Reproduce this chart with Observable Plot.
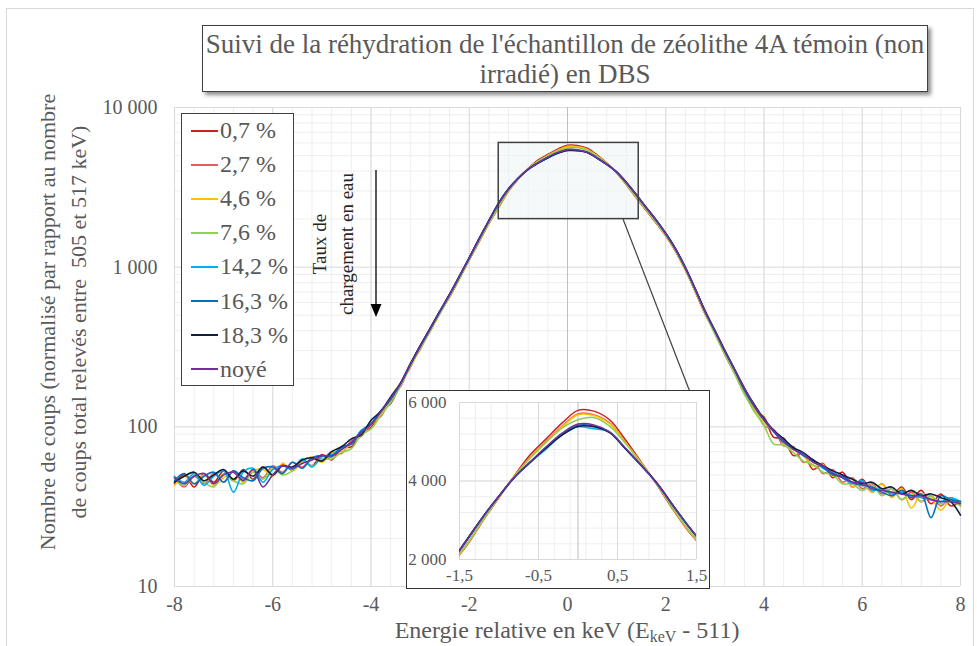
<!DOCTYPE html>
<html><head><meta charset="utf-8">
<script src="https://cdn.jsdelivr.net/npm/d3@7"></script>
<script src="https://cdn.jsdelivr.net/npm/@observablehq/plot@0.6"></script>
<style>
body{margin:0;background:#fff;}
#wrap{position:relative;width:977px;height:646px;overflow:hidden;font-family:'Liberation Serif',Tinos,serif;color:#595959;}
#wrap > *{position:absolute;}
.legend-item{position:absolute;left:9px;height:26px;display:flex;align-items:center;font-size:24px;white-space:nowrap;}
.legend-item span.sw{display:inline-block;width:27px;height:2px;margin-right:2px;}
</style></head><body><div id="wrap"></div>
<script>
const energies = [-8,-7.8,-7.6,-7.4,-7.2,-7,-6.8,-6.6,-6.4,-6.2,-6,-5.8,-5.6,-5.4,-5.2,-5,-4.8,-4.6,-4.4,-4.2,-4,-3.8,-3.6,-3.4,-3.2,-3,-2.8,-2.6,-2.4,-2.2,-2,-1.8,-1.6,-1.4,-1.2,-1,-0.8,-0.6,-0.4,-0.2,0,0.2,0.4,0.6,0.8,1,1.2,1.4,1.6,1.8,2,2.2,2.4,2.6,2.8,3,3.2,3.4,3.6,3.8,4,4.2,4.4,4.6,4.8,5,5.2,5.4,5.6,5.8,6,6.2,6.4,6.6,6.8,7,7.2,7.4,7.6,7.8,8];

const s07 = [44,50,42,51,45,53,46,54,47,56,50,58,54,62,57,67,62,74,75,93,99,126,140,
  185,236,315,395,520,650,850,1110,1440,1880,
  2380,3000,3580,4150,4680,5080,5480,5800,5780,5560,5050,4480,3900,3280,2720,
  2270,1900,1570,1255,960,705,510,395,285,218,
  175,126,115,86,85,66,68,54,59,48,52,42,47,39,44,37,42,35,40,33,38,32,34];
const s27 = [48,42,49,44,51,45,53,47,54,48,57,52,60,56,64,62,70,68,82,87,106,116,150,
  178,242,305,402,510,655,845,1115,1450,1890,
  2390,3000,3580,4140,4620,5020,5400,5710,5690,5480,4990,4450,3910,3290,2720,
  2280,1910,1575,1260,962,708,515,388,290,220,
  163,137,102,96,76,75,60,62,51,54,45,48,41,44,38,41,35,39,34,37,32,36,32];
const s46 = [43,49,44,50,43,48,52,45,53,54,49,59,53,60,65,60,69,70,79,90,103,120,147,
  184,238,312,398,514,658,855,1118,1455,1895,
  2400,3010,3590,4140,4600,5000,5380,5690,5670,5460,4980,4460,3920,3300,2740,
  2290,1915,1580,1265,965,710,518,392,288,224,
  170,130,106,95,79,72,66,57,58,49,50,42,44,39,44,36,41,31,38,36,30,35,33];
const s76 = [47,43,50,45,42,51,46,44,52,47,55,50,53,61,57,63,63,69,73,89,97,118,142,
  180,240,308,396,512,652,850,1115,1450,1890,
  2420,3020,3590,4130,4590,4990,5350,5560,5620,5400,4960,4440,3920,3310,2750,
  2295,1920,1585,1270,968,712,515,380,285,215,
  160,125,102,78,77,69,61,58,52,50,44,44,40,43,37,41,35,38,34,37,33,34,32];
const s142 = [49,45,51,43,49,53,39,52,55,45,54,57,54,63,56,65,67,74,79,95,105,126,149,
  186,245,318,408,525,672,875,1140,1500,1950,
  2500,3080,3610,4100,4480,4820,5180,5380,5330,5250,4830,4390,3930,3370,2830,
  2360,1975,1620,1295,990,728,528,398,298,227,
  172,136,112,94,83,74,67,62,55,52,48,44,46,40,41,38,39,37,36,35,34,36,34];
const s163 = [46,51,44,49,52,45,53,48,46,55,56,51,60,55,64,66,65,75,78,94,104,125,148,
  187,246,320,410,528,675,878,1145,1505,1955,
  2520,3100,3620,4100,4480,4860,5200,5420,5400,5240,4830,4400,3940,3380,2840,
  2365,1980,1625,1300,992,730,530,400,300,228,
  170,134,110,93,80,73,66,61,56,50,49,45,43,42,39,37,40,36,38,27,37,35,34];
const s183 = [45,49,52,46,50,54,47,53,49,56,50,57,56,62,64,61,70,75,84,89,110,125,154,
  188,248,322,412,530,678,880,1148,1510,1960,
  2530,3100,3620,4100,4490,4850,5170,5390,5380,5230,4820,4400,3950,3390,2850,
  2370,1985,1630,1302,995,732,532,402,302,230,
  175,138,112,95,84,74,69,62,57,53,50,47,44,45,41,42,38,40,37,38,36,34,28];
const sNoye = [48,44,49,51,44,50,52,46,54,42,50,57,55,59,62,66,66,72,80,92,103,124,151,
  186,245,318,408,526,672,875,1142,1500,1950,
  2510,3090,3620,4110,4500,4880,5220,5450,5430,5250,4840,4400,3940,3380,2840,
  2360,1975,1622,1298,990,729,529,399,299,229,
  174,136,111,94,82,72,68,60,57,51,48,45,45,41,40,39,38,37,37,35,34,34,33];

const seriesNames = ["0,7 %","2,7 %","4,6 %","7,6 %","14,2 %","16,3 %","18,3 %","noyé"];
const seriesColors = ["#c9211e","#ec5a5c","#ffc000","#92d050","#00b0f0","#0070c0","#0f1f3d","#7030a0"];
const xTicks = [-8,-6,-4,-2,0,2,4,6,8];
const yTicks = [10,100,1000,10000];
const insetXTicks = [-1.5,-0.5,0.5,1.5];
const insetYTicks = [2000,4000,6000];
const zoomBox = {x1:-1.4, x2:1.45, y1:2000, y2:6000};

const seriesValues = [s07,s27,s46,s76,s142,s163,s183,sNoye];
const rows = [];
seriesValues.forEach((vals,k) => vals.forEach((v,i) => rows.push({x: energies[i], y: v, s: seriesNames[k]})));

const fmtNum = d => {
  const s = String(Math.abs(d));
  const [i,f] = s.split(".");
  return (d < 0 ? "-" : "") + i.replace(/\B(?=(\d{3})+(?!\d))/g, " ") + (f ? "," + f : "");
};
const FONT = "'Liberation Serif', Tinos, serif";
const GRID_MINOR = "#eeeeee", GRID_MAJOR = "#d9d9d9";

const xMinor = d3.range(-8, 8.001, 0.4).map(v => +v.toFixed(2));
const yMinor = [10,100,1000].flatMap(d => d3.range(2,10).map(k => k*d));

const main = Plot.plot({
  width: 977, height: 646,
  marginLeft: 174, marginRight: 17, marginTop: 107, marginBottom: 60,
  style: {background: "transparent", fontFamily: FONT, fontSize: "20px", color: "#595959", overflow: "visible"},
  x: {domain: [-8, 8], ticks: xTicks, tickFormat: fmtNum, tickSize: 0, tickPadding: 10, label: null},
  y: {type: "log", domain: [10, 10000], ticks: yTicks, tickFormat: fmtNum, tickSize: 0, tickPadding: 17, label: null},
  color: {domain: seriesNames, range: seriesColors},
  marks: [
    Plot.ruleX(xMinor, {stroke: GRID_MINOR}),
    Plot.ruleY(yMinor, {stroke: GRID_MINOR}),
    Plot.ruleX(xTicks, {stroke: GRID_MAJOR}),
    Plot.ruleY(yTicks, {stroke: GRID_MAJOR}),
    Plot.ruleX([0], {stroke: "#bfbfbf"}),
    Plot.rect([zoomBox], {x1: "x1", x2: "x2", y1: "y1", y2: "y2", fill: "#eef5f7", fillOpacity: 0.6}),
    Plot.line(rows, {x: "x", y: "y", z: "s", stroke: "s", curve: "catmull-rom", strokeWidth: 1.6}),
    Plot.rect([zoomBox], {x1: "x1", x2: "x2", y1: "y1", y2: "y2", fill: "none", stroke: "#404040", strokeWidth: 1.5})
  ]
});

const insetXMinor = d3.range(-1.5, 1.5001, 0.2).map(v => +v.toFixed(2));
const insetYMinor = d3.range(2000, 6001, 400);
const insetRows = rows.filter(r => r.x >= -1.8 && r.x <= 1.8);
const inset = Plot.plot({
  width: 302, height: 197,
  marginLeft: 52, marginRight: 13, marginTop: 11, marginBottom: 29,
  style: {background: "#fff", fontFamily: FONT, fontSize: "17px", color: "#595959", overflow: "visible"},
  x: {domain: [-1.5, 1.5], ticks: insetXTicks, tickFormat: fmtNum, tickSize: 0, tickPadding: 9, label: null},
  y: {domain: [2000, 6000], ticks: insetYTicks, tickFormat: fmtNum, tickSize: 0, tickPadding: 13, label: null},
  color: {domain: seriesNames, range: seriesColors},
  marks: [
    Plot.ruleX(insetXMinor, {stroke: GRID_MINOR}),
    Plot.ruleY(insetYMinor, {stroke: GRID_MINOR}),
    Plot.ruleX(insetXTicks, {stroke: GRID_MAJOR}),
    Plot.ruleY(insetYTicks, {stroke: GRID_MAJOR}),
    Plot.ruleX([0], {stroke: "#bfbfbf"}),
    Plot.line(insetRows, {x: "x", y: "y", z: "s", stroke: "s", curve: "catmull-rom", strokeWidth: 1.5, clip: true})
  ]
});

const wrap = document.getElementById("wrap");

const border = document.createElement("div");
Object.assign(border.style, {left: "6px", top: "8px", width: "968px", height: "640px", border: "1px solid #d9d9d9", boxSizing: "border-box"});
wrap.appendChild(border);

main.style.left = "0px"; main.style.top = "0px";
wrap.appendChild(main);

const ns = "http://www.w3.org/2000/svg";
const ov = document.createElementNS(ns, "svg");
ov.setAttribute("width", 977); ov.setAttribute("height", 646);
ov.style.left = "0px"; ov.style.top = "0px";
ov.innerHTML = `
  <line x1="623" y1="219" x2="690" y2="392" stroke="#404040" stroke-width="1.2"/>
  <line x1="376" y1="170" x2="376" y2="306" stroke="#000" stroke-width="1.3"/>
  <path d="M370.5,304 L381.5,304 L376,317 Z" fill="#000"/>`;
wrap.appendChild(ov);

const ann = document.createElement("div");
Object.assign(ann.style, {left: "333px", top: "244px", transform: "translate(-50%,-50%) rotate(-90deg)", fontSize: "19px", lineHeight: "27px", textAlign: "center", whiteSpace: "nowrap", color: "#262626"});
ann.innerHTML = "Taux de<br>chargement en eau";
wrap.appendChild(ann);

const insetBox = document.createElement("div");
Object.assign(insetBox.style, {left: "407px", top: "391px", width: "302px", height: "197px", outline: "2px solid #333", outlineOffset: "-1px", background: "#fff"});
inset.style.position = "absolute"; inset.style.left = "0px"; inset.style.top = "0px";
insetBox.appendChild(inset);
wrap.appendChild(insetBox);

const title = document.createElement("div");
Object.assign(title.style, {left: "202px", top: "25px", width: "726px", height: "67px", border: "1px solid #404040", boxSizing: "border-box", background: "#fff", boxShadow: "3px 3px 4px rgba(0,0,0,0.45)", textAlign: "center", fontSize: "27px", lineHeight: "30px", paddingTop: "3px", color: "#595959", whiteSpace: "nowrap"});
title.innerHTML = "Suivi de la réhydration de l'échantillon de zéolithe 4A témoin (non<br>irradié) en DBS";
wrap.appendChild(title);

const legend = document.createElement("div");
Object.assign(legend.style, {left: "181px", top: "113px", width: "113px", height: "273px", border: "1.5px solid #404040", boxSizing: "border-box", background: "#fff"});
seriesNames.forEach((n, i) => {
  const it = document.createElement("div");
  it.className = "legend-item";
  it.style.top = (3.5 + i * 34.1) + "px";
  it.innerHTML = `<span class="sw" style="background:${seriesColors[i]}"></span>${n}`;
  legend.appendChild(it);
});
wrap.appendChild(legend);

const yt = document.createElement("div");
Object.assign(yt.style, {left: "63px", top: "322px", transform: "translate(-50%,-50%) rotate(-90deg)", fontSize: "22px", lineHeight: "31px", textAlign: "center", whiteSpace: "nowrap", color: "#595959"});
yt.innerHTML = "Nombre de coups (normalisé par rapport au nombre<br>de coups total relevés entre&nbsp; 505 et 517 keV)";
wrap.appendChild(yt);

const xt = document.createElement("div");
Object.assign(xt.style, {left: "567px", top: "631px", transform: "translate(-50%,-50%)", fontSize: "24px", lineHeight: "20px", whiteSpace: "nowrap", color: "#595959"});
xt.innerHTML = "Energie relative en keV (E<span style='font-size:16px;position:relative;top:4px'>keV</span> - 511)";
wrap.appendChild(xt);
</script>
</body></html>
